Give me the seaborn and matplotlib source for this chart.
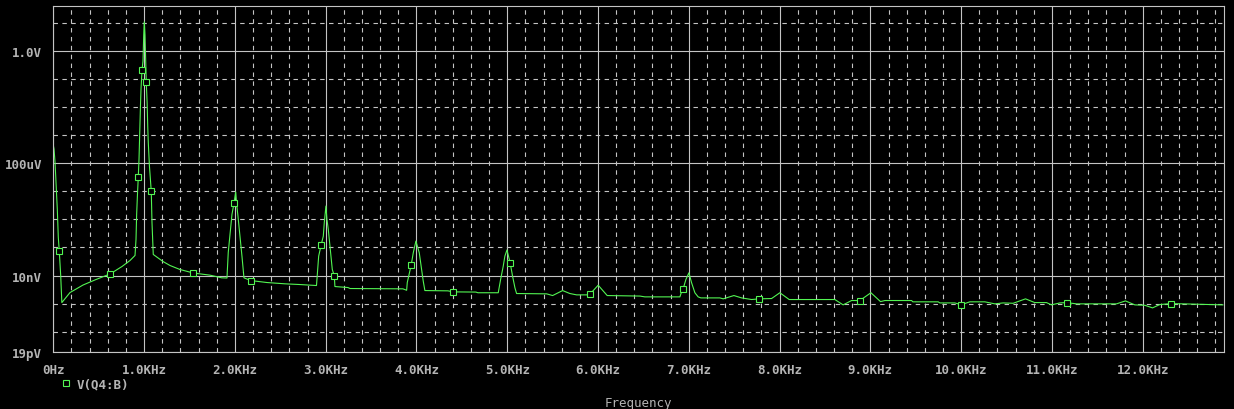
import numpy as np
import matplotlib
matplotlib.use("Agg")
import matplotlib.pyplot as plt
from matplotlib.lines import Line2D
from matplotlib.ticker import NullFormatter, FuncFormatter
import seaborn as sns

# FFT magnitude of V(Q4:B), read from the probe window
freq_hz = [0, 8, 19, 30, 44, 55, 66, 82, 94, 184, 327, 470, 628, 757, 845, 900,
           911, 918, 927, 936, 944, 949, 955, 960, 966, 977, 988, 996, 1002, 1010,
           1018, 1024, 1034, 1040, 1046, 1059, 1079, 1087, 1101, 1208, 1285, 1395,
           1542, 1726, 1855, 1913, 1927, 1946, 1968, 1990, 2009, 2020, 2034, 2056,
           2078, 2100, 2174, 2353, 2552, 2717, 2899, 2923, 2951, 2974, 2985, 3003,
           3014, 3029, 3051, 3073, 3095, 3102, 3246, 3268, 3851, 3892, 3899, 3943,
           3965, 3994, 4031, 4057, 4075, 4093, 4347, 4405, 4655, 4677, 4901, 4927,
           4956, 4974, 4997, 5032, 5059, 5085, 5103, 5434, 5500, 5610, 5690, 5764,
           5881, 5914, 6002, 6101, 6461, 6516, 6902, 6920, 6938, 6968, 7001, 7031,
           7067, 7103, 7133, 7342, 7379, 7497, 7581, 7692, 7775, 7912, 8003, 8106,
           8609, 8700, 8793, 8884, 9006, 9112, 9160, 9454, 9468, 9747, 9765, 9930,
           9967, 9997, 10096, 10261, 10371, 10462, 10573, 10709, 10811, 10940,
           10995, 11087, 11161, 11271, 11711, 11810, 11913, 12023, 12108, 12188,
           12309, 12445, 12885]

mag_v = [4.33e-4, 3.12e-4, 1.07e-4, 2.08e-5, 2.26e-6, 2.27e-7, 7.19e-8, 9.2e-9,
         1.09e-9, 2.48e-9, 4.59e-9, 7.21e-9, 1.15e-8, 2.10e-8, 3.43e-8, 5.18e-8,
         1.93e-7, 1.50e-6, 7.75e-6, 3.13e-5, 1.37e-4, 5.55e-4, 2.43e-3, 1.07e-2,
         4.31e-2, 0.205, 0.429, 3.63, 10.6, 3.63, 0.429, 7.65e-2, 1.26e-2, 2.06e-3,
         5.55e-4, 7.73e-5, 9.9e-6, 7.78e-7, 5.62e-8, 3.16e-8, 2.28e-8, 1.64e-8,
         1.23e-8, 1.03e-8, 8.29e-9, 8.16e-9, 6.62e-8, 2.90e-7, 1.50e-6, 3.70e-6,
         9.36e-6, 3.41e-6, 1.30e-6, 2.52e-7, 4.89e-8, 8.29e-9, 6.64e-9, 5.64e-9,
         5.07e-9, 4.78e-9, 4.41e-9, 4.89e-8, 1.25e-7, 2.52e-7, 7.78e-7, 2.97e-6,
         9.95e-7, 4.38e-7, 8.48e-8, 1.64e-8, 9.77e-9, 4.06e-9, 3.74e-9, 3.45e-9,
         3.36e-9, 2.99e-9, 5.64e-9, 2.43e-8, 6.46e-8, 1.68e-7, 6.46e-8, 1.64e-8,
         6.27e-9, 2.92e-9, 2.85e-9, 2.62e-9, 2.58e-9, 2.44e-9, 2.44e-9, 7.21e-9,
         2.15e-8, 4.89e-8, 8.13e-8, 2.84e-8, 9.46e-9, 3.65e-9, 2.29e-9, 2.23e-9,
         1.94e-9, 2.92e-9, 2.29e-9, 2.05e-9, 2.05e-9, 2.23e-9, 4.52e-9, 1.94e-9,
         1.86e-9, 1.74e-9, 1.74e-9, 2.62e-9, 3.36e-9, 7.21e-9, 1.25e-8, 5.50e-9,
         2.44e-9, 1.74e-9, 1.60e-9, 1.60e-9, 1.48e-9, 1.94e-9, 1.60e-9, 1.40e-9,
         1.48e-9, 1.52e-9, 2.44e-9, 1.40e-9, 1.40e-9, 9.03e-10, 1.29e-9, 1.29e-9,
         2.44e-9, 1.18e-9, 1.29e-9, 1.29e-9, 1.16e-9, 1.16e-9, 1.06e-9, 1.06e-9,
         9.81e-10, 9.03e-10, 1.16e-9, 1.16e-9, 9.81e-10, 1.06e-9, 1.03e-9, 1.48e-9,
         1.09e-9, 1.09e-9, 9.03e-10, 1.06e-9, 1.09e-9, 9.81e-10, 9.81e-10, 1.25e-9,
         9.03e-10, 8.74e-10, 7.06e-10, 9.27e-10, 1.00e-9, 9.81e-10, 9.03e-10]

# points that carry the square trace markers
marker_freqs_hz = [66, 628, 936, 977, 1024, 1079, 1542, 1990, 2174, 2951, 3095,
                   3943, 4405, 5032, 5914, 6938, 7775, 8884, 9997, 11161, 12309]

x_ticks_hz = list(range(0, 13000, 1000))
y_ticks_v = [1.9e-11, 1e-8, 1e-4, 1.0]
y_tick_labels = ["19pV", "10nV", "100uV", "1.0V"]
trace_name = "V(Q4:B)"

GREEN = "#52f552"
GRID = "#c4c4c4"
TEXT = "#b4b4b4"

sns.set_theme(style="dark", rc={
    "figure.facecolor": "black",
    "axes.facecolor": "black",
    "savefig.facecolor": "black",
})
plt.rcParams["font.family"] = ["DejaVu Sans Mono", "DejaVu Sans"]
plt.rcParams["font.weight"] = "bold"

fig = plt.figure(figsize=(12.34, 4.10), dpi=100)
ax = fig.add_axes([0.0432, 0.139, 0.9483, 0.8432])

mark_idx = [int(np.argmin(np.abs(np.array(freq_hz) - f))) for f in marker_freqs_hz]

sns.lineplot(x=freq_hz, y=mag_v, ax=ax, sort=False, estimator=None,
             color=GREEN, linewidth=0.8, marker="s", markevery=mark_idx,
             markersize=4.2, markerfacecolor="black", markeredgecolor=GREEN,
             markeredgewidth=0.8)

ax.set_yscale("log")
ax.set_xlim(0, 12890)
ax.set_ylim(1.9e-11, 38)

# x axis: major every 1 kHz, dashed minor every 200 Hz
ax.set_xticks(x_ticks_hz)
ax.xaxis.set_major_formatter(FuncFormatter(
    lambda v, p: "0Hz" if v == 0 else f"{v / 1000:.1f}KHz"))
ax.set_xticks([f for f in range(200, 12890, 200) if f % 1000], minor=True)

# y axis: labelled decades plus dashed minor grid at every decade
ax.set_yticks(y_ticks_v, y_tick_labels)
ax.set_yticks([10.0 ** e for e in range(-10, 2) if e not in (-8, -4, 0)], minor=True)
ax.yaxis.set_minor_formatter(NullFormatter())

ax.grid(which="major", color=GRID, linewidth=0.8, linestyle="-")
ax.grid(which="minor", color=GRID, linewidth=0.8, linestyle=(0, (4, 4)))
ax.tick_params(which="major", length=5, width=0.8, color=GRID, labelcolor=TEXT,
               labelsize=9, direction="out", pad=3)
ax.tick_params(which="minor", length=0)
for s in ax.spines.values():
    s.set_color(GRID)
    s.set_linewidth(0.8)

ax.set_xlabel("Frequency", color=TEXT, fontsize=9)
ax.set_ylabel("")
ax.xaxis.set_label_coords(0.5, -0.127)

handle = Line2D([], [], linestyle="none", marker="s", markersize=4.2,
                markerfacecolor="black", markeredgecolor=GREEN, markeredgewidth=0.8)
leg = ax.legend([handle], [trace_name], loc="center left",
                bbox_to_anchor=(0.039, 0.061), bbox_transform=fig.transFigure,
                frameon=False, handlelength=1.0, handletextpad=0.4,
                prop={"size": 9, "weight": "bold"})
for t in leg.get_texts():
    t.set_color(TEXT)

fig.savefig("out.png", dpi=100)
